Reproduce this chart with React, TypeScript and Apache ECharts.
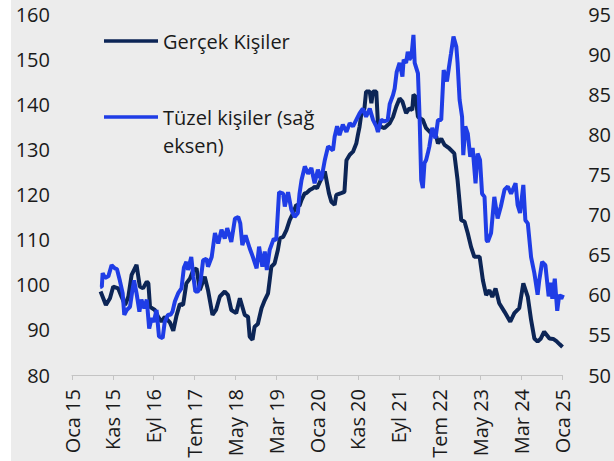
import React, { useEffect, useRef } from "react";
import * as echarts from "echarts";

const xTickLabels = ["Oca 15", "Kas 15", "Eyl 16", "Tem 17", "May 18", "Mar 19", "Oca 20", "Kas 20", "Eyl 21", "Tem 22", "May 23", "Mar 24", "Oca 25"];
const leftTicks = [80, 160, 10];
const rightTicks = [50, 95, 5];

const gercekName = "Gerçek Kişiler";
const tuzelName = "Tüzel kişiler (sağ eksen)";

const gercekDates = [
  "2015-08-01", "2015-09-10", "2015-10-10", "2015-11-04", "2015-12-10", "2016-01-04", "2016-02-01", "2016-02-25",
  "2016-03-19", "2016-04-25", "2016-05-19", "2016-06-13", "2016-07-10", "2016-07-22", "2016-08-04", "2016-09-10",
  "2016-10-04", "2016-10-28", "2016-11-22", "2017-01-01", "2017-01-25", "2017-02-19", "2017-03-13", "2017-04-07",
  "2017-05-01", "2017-05-28", "2017-06-22", "2017-07-16", "2017-08-10", "2017-09-16", "2017-10-10", "2017-11-13",
  "2017-12-10", "2018-01-07", "2018-02-13", "2018-03-07", "2018-04-01", "2018-05-07", "2018-06-04", "2018-07-10",
  "2018-08-04", "2018-08-16", "2018-09-07", "2018-09-22", "2018-10-16", "2018-11-13", "2018-12-07", "2019-01-01",
  "2019-01-13", "2019-01-25", "2019-02-19", "2019-03-13", "2019-03-28", "2019-04-22", "2019-05-16", "2019-06-10",
  "2019-07-04", "2019-07-28", "2019-08-22", "2019-09-07", "2019-10-01", "2019-10-13", "2019-11-07", "2019-12-01",
  "2019-12-13", "2020-01-01", "2020-01-19", "2020-02-28", "2020-03-28", "2020-04-16", "2020-05-10", "2020-05-22",
  "2020-06-28", "2020-07-22", "2020-08-07", "2020-09-01", "2020-09-25", "2020-10-19", "2020-11-01", "2020-11-13",
  "2020-11-25", "2020-12-19", "2021-01-01", "2021-01-28", "2021-02-10", "2021-02-22", "2021-03-16", "2021-03-28",
  "2021-04-22", "2021-05-16", "2021-06-10", "2021-06-25", "2021-07-19", "2021-08-13", "2021-09-07", "2021-09-28",
  "2021-10-25", "2021-11-19", "2021-12-10", "2021-12-19", "2022-01-04", "2022-01-22", "2022-02-28", "2022-03-22",
  "2022-04-28", "2022-06-07", "2022-06-19", "2022-07-13", "2022-08-07", "2022-09-13", "2022-10-19", "2022-11-13",
  "2022-12-10", "2023-01-04", "2023-01-28", "2023-02-22", "2023-03-16", "2023-04-25", "2023-05-19", "2023-06-13",
  "2023-07-07", "2023-07-28", "2023-08-22", "2023-09-19", "2023-10-28", "2023-12-10", "2024-01-10", "2024-02-16",
  "2024-03-16", "2024-04-19", "2024-05-13", "2024-06-07", "2024-07-01", "2024-07-25", "2024-08-19", "2024-09-28",
  "2024-10-25", "2024-11-19", "2024-12-13", "2025-01-04",
];
const gercekValues = [
  98.5, 95.5, 97, 99.6, 99.2, 97.4, 95.5, 97.4,
  102.2, 104.4, 99.6, 99.2, 100.7, 100.3, 95.1, 94.4,
  92.9, 91.8, 92.9, 91.6, 89.8, 93.2, 95.7, 95.5,
  100.3, 101.4, 103.3, 103.6, 98.8, 101.8, 98.8, 93.3,
  94.5, 97.4, 98.5, 97.7, 94.4, 93.7, 97, 93.3,
  92.9, 88.5, 87.8, 90.7, 91.3, 94.8, 96.6, 98.1,
  101, 104, 104.7, 107.7, 110.3, 110.6, 112.1, 114.3,
  115.8, 117.7, 117.5, 118.8, 120.3, 120.3, 121, 121.4,
  121.7, 121.4, 122.6, 125.1, 120.3, 118.4, 117.7, 119.9,
  120.3, 120.6, 127.6, 128.8, 129.5, 131.3, 133.2, 135,
  137.6, 139.1, 142.8, 142.8, 140.2, 142.8, 142.8, 135.8,
  135, 134.7, 135.4, 135.8, 137.2, 139.5, 141.3, 140.6,
  138, 139.1, 138.7, 142.1, 141.7, 137.2, 136.5, 134.7,
  133.6, 132.8, 131.3, 132.4, 131, 130.2, 129.1, 123.2,
  114.3, 114, 111.4, 108.4, 106.2, 106.2, 101, 97.7,
  98.8, 97.3, 99.2, 95.9, 94, 91.8, 93.7, 94.8,
  100.3, 97.3, 92.2, 88.1, 87.4, 88.1, 89.6, 88.1,
  88, 87.5, 86.8, 86.2,
];

const tuzelDates = [
  "2015-07-28", "2015-08-10", "2015-08-16", "2015-09-04", "2015-09-28", "2015-10-22", "2015-11-16", "2015-12-01",
  "2015-12-22", "2016-01-13", "2016-01-25", "2016-02-13", "2016-03-07", "2016-03-25", "2016-04-07", "2016-04-25",
  "2016-05-16", "2016-06-01", "2016-06-22", "2016-07-10", "2016-07-28", "2016-08-16", "2016-09-01", "2016-09-22",
  "2016-10-10", "2016-11-07", "2016-11-22", "2016-12-16", "2017-01-04", "2017-01-19", "2017-02-07", "2017-03-01",
  "2017-03-25", "2017-04-13", "2017-05-01", "2017-05-13", "2017-06-07", "2017-06-22", "2017-07-07", "2017-07-28",
  "2017-08-16", "2017-09-04", "2017-09-28", "2017-10-10", "2017-11-07", "2017-12-01", "2017-12-25", "2018-01-19",
  "2018-02-13", "2018-03-01", "2018-04-01", "2018-04-28", "2018-05-22", "2018-06-07", "2018-06-22", "2018-07-16",
  "2018-08-16", "2018-09-10", "2018-10-07", "2018-10-25", "2018-11-19", "2018-12-07", "2018-12-22", "2019-01-13",
  "2019-02-13", "2019-03-01", "2019-03-22", "2019-04-22", "2019-05-04", "2019-05-28", "2019-06-22", "2019-07-16",
  "2019-08-10", "2019-08-22", "2019-09-07", "2019-10-01", "2019-10-25", "2019-11-19", "2019-12-13", "2020-01-07",
  "2020-02-01", "2020-02-28", "2020-03-22", "2020-04-28", "2020-05-10", "2020-05-28", "2020-06-16", "2020-07-10",
  "2020-08-07", "2020-09-01", "2020-09-25", "2020-10-19", "2020-11-13", "2020-12-07", "2021-01-01", "2021-01-28",
  "2021-02-22", "2021-03-16", "2021-03-28", "2021-04-22", "2021-05-16", "2021-06-10", "2021-06-25", "2021-07-19",
  "2021-08-01", "2021-08-16", "2021-09-07", "2021-09-28", "2021-10-07", "2021-10-25", "2021-11-07", "2021-11-19",
  "2021-12-04", "2021-12-19", "2021-12-28", "2022-01-22", "2022-02-04", "2022-02-16", "2022-02-28", "2022-03-10",
  "2022-03-22", "2022-04-04", "2022-04-16", "2022-05-07", "2022-06-01", "2022-06-19", "2022-07-13", "2022-08-01",
  "2022-08-25", "2022-09-10", "2022-09-25", "2022-10-13", "2022-11-04", "2022-11-13", "2022-11-28", "2022-12-16",
  "2022-12-25", "2023-01-10", "2023-01-28", "2023-02-16", "2023-03-04", "2023-03-25", "2023-04-10", "2023-04-28",
  "2023-05-13", "2023-06-01", "2023-06-16", "2023-06-25", "2023-07-19", "2023-08-13", "2023-09-07", "2023-10-01",
  "2023-10-28", "2023-11-22", "2023-12-16", "2024-01-19", "2024-02-04", "2024-02-22", "2024-03-16", "2024-04-01",
  "2024-04-19", "2024-05-13", "2024-06-07", "2024-07-01", "2024-07-13", "2024-08-04", "2024-08-28", "2024-09-22",
  "2024-10-07", "2024-10-19", "2024-11-07", "2024-11-25", "2024-12-10", "2024-12-25", "2025-01-07",
];
const tuzelValues = [
  61, 61, 62.7, 62.1, 62.3, 63.7, 63.3, 63.2,
  61.8, 60.2, 57.5, 58.1, 58.5, 60.6, 61.8, 60.2,
  57.9, 59.4, 58.3, 59.4, 55.8, 57.1, 56.6, 58.1,
  54.8, 54.6, 56.6, 57.5, 57.5, 57.9, 59.2, 60.2,
  60.8, 63.4, 64.1, 63.1, 64.7, 62.3, 60.4, 60.4,
  61.8, 64.3, 64.5, 63.5, 64.7, 67.7, 66.4, 68.1,
  67, 68.3, 66.6, 69.5, 69.7, 68.9, 66.2, 67.4,
  65.8, 64.7, 63.3, 66, 63.5, 65.4, 63.1, 65.6,
  67, 66.8, 72.8, 72.6, 71, 72.8, 70.6, 69.7,
  70.2, 72.6, 74.3, 76, 75.1, 75.8, 73.9, 75.6,
  74.3, 76.8, 78.5, 78, 79.7, 81, 79.9, 81.2,
  80.3, 81.4, 81, 81.8, 82.6, 83.2, 82.2, 83.2,
  81.8, 81, 80.3, 81.8, 81.6, 81.8, 83.8, 84.9,
  85.7, 87.8, 88.9, 87.2, 89.3, 88.9, 90.3, 89.3,
  89.7, 92.4, 88.9, 87.6, 82.2, 74.3, 73.3, 76.4,
  76.8, 77.6, 78.5, 80.8, 79.5, 81.8, 81.8, 88,
  86.6, 88.4, 90.1, 92.2, 90.9, 88.9, 84.3, 82.2,
  77.4, 81, 80.1, 77.2, 78.3, 73.9, 77.6, 76.8,
  72.6, 72.2, 66.8, 66.6, 67.7, 72.2, 69.5, 71,
  73.1, 73.5, 72.6, 73.9, 71.2, 70.2, 73.7, 69.3,
  68.9, 64.7, 62.7, 60, 61.8, 64.1, 63.7, 59.8,
  61.5, 59.5, 62, 58, 60, 59.5, 60,
];

const monthsSince2015 = (d: string) => {
  const [y, m, day] = d.split("-").map(Number);
  return (y - 2015) * 12 + (m - 1) + (day - 1) / 30;
};

const FONT = '"Open Sans", "DejaVu Sans", sans-serif';
const DARK = "#0c2556";
const BLUE = "#1f3de6";
const TEXT = "#1a1a1a";

export default function App() {
  const ref = useRef<HTMLDivElement>(null);
  useEffect(() => {
    if (!ref.current) return;
    const chart = echarts.init(ref.current, undefined, { renderer: "svg" });
    const gercekData = gercekDates.map((d, i) => [monthsSince2015(d), gercekValues[i]]);
    const tuzelData = tuzelDates.map((d, i) => [monthsSince2015(d), tuzelValues[i]]);
    chart.setOption({
      animation: false,
      backgroundColor: "transparent",
      textStyle: { fontFamily: FONT },
      grid: { left: 72, right: 51, top: 14, bottom: 86, containLabel: false },
      xAxis: {
        type: "value",
        min: 0,
        max: 120,
        interval: 10,
        axisLine: { show: true, lineStyle: { color: "#c4c4c4", width: 1 } },
        axisTick: { show: true, length: 5, lineStyle: { color: "#c4c4c4" } },
        splitLine: { show: false },
        axisLabel: {
          rotate: 90,
          margin: 14,
          fontSize: 20,
          fontFamily: FONT,
          color: TEXT,
          formatter: (v: number) => xTickLabels[Math.round(v / 10)] ?? "",
        },
      },
      yAxis: [
        {
          type: "value",
          min: leftTicks[0],
          max: leftTicks[1],
          interval: leftTicks[2],
          axisLine: { show: false },
          axisTick: { show: false },
          splitLine: { show: false },
          axisLabel: { margin: 22, fontSize: 20, fontFamily: FONT, color: TEXT },
        },
        {
          type: "value",
          min: rightTicks[0],
          max: rightTicks[1],
          interval: rightTicks[2],
          position: "right",
          axisLine: { show: false },
          axisTick: { show: false },
          splitLine: { show: false },
          axisLabel: { margin: 26, fontSize: 20, fontFamily: FONT, color: TEXT },
        },
      ],
      series: [
        {
          name: gercekName,
          type: "line",
          yAxisIndex: 0,
          data: gercekData,
          showSymbol: false,
          symbol: "none",
          lineStyle: { color: DARK, width: 4 },
          itemStyle: { color: DARK },
          z: 2,
        },
        {
          name: tuzelName,
          type: "line",
          yAxisIndex: 1,
          data: tuzelData,
          showSymbol: false,
          symbol: "none",
          lineStyle: { color: BLUE, width: 4 },
          itemStyle: { color: BLUE },
          z: 3,
        },
      ],
      graphic: [
        { type: "line", shape: { x1: 104, y1: 41, x2: 158, y2: 41 }, style: { stroke: DARK, lineWidth: 3.5 } },
        {
          type: "text",
          x: 163,
          y: 41,
          style: { text: "Gerçek Kişiler", fontSize: 20, fontFamily: FONT, fill: TEXT, verticalAlign: "middle", align: "left" },
        },
        { type: "line", shape: { x1: 104, y1: 117, x2: 158, y2: 117 }, style: { stroke: BLUE, lineWidth: 3.5 } },
        {
          type: "text",
          x: 163,
          y: 103,
          style: {
            text: "Tüzel kişiler (sağ\neksen)",
            fontSize: 20,
            fontFamily: FONT,
            fill: TEXT,
            lineHeight: 28,
            verticalAlign: "top",
            align: "left",
          },
        },
      ],
    });
    return () => chart.dispose();
  }, []);
  return (
    <div style={{ position: "fixed", left: 0, top: 0, width: 614, height: 461, background: "#ffffff" }}>
      <div
        ref={ref}
        style={{
          position: "absolute",
          left: 0,
          top: 0,
          width: 614,
          height: 461,
          background: "linear-gradient(to right, #ffffff 11px, #ececec 11px)",
        }}
      />
    </div>
  );
}
